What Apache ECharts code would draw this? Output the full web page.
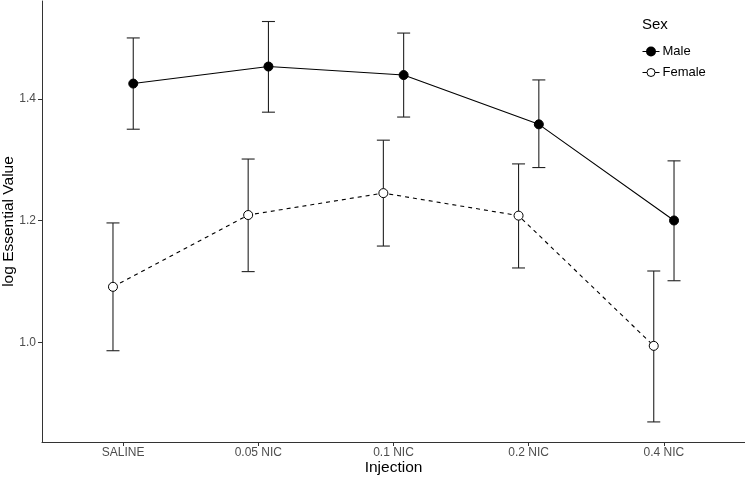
<!DOCTYPE html>
<html>
<head>
<meta charset="utf-8">
<script src="https://cdn.jsdelivr.net/npm/echarts@6/dist/echarts.min.js"></script>
<style>html,body{margin:0;padding:0;background:#fff}#c{width:745px;height:478px}</style>
</head>
<body>
<div id="c"></div>
<script>
const categories = ['SALINE', '0.05 NIC', '0.1 NIC', '0.2 NIC', '0.4 NIC'];
const maleMean = [1.425, 1.453, 1.439, 1.358, 1.200];
const maleLow = [1.350, 1.378, 1.370, 1.287, 1.101];
const maleHigh = [1.500, 1.527, 1.508, 1.431, 1.298];
const femaleMean = [1.091, 1.209, 1.245, 1.208, 0.994];
const femaleLow = [0.986, 1.116, 1.158, 1.122, 0.869];
const femaleHigh = [1.196, 1.301, 1.332, 1.293, 1.117];
const yTicks = [1.0, 1.2, 1.4];
const dodge = 0.075;

const catPos = categories.map((c, i) => i + 1);
const font = 'Liberation Sans, Arial, sans-serif';

function pts(mean, off) { return mean.map((v, i) => [catPos[i] + off, v]); }
function bars(low, high, off) { return low.map((v, i) => [catPos[i] + off, v, high[i]]); }

function errRender(params, api) {
  const x = api.value(0);
  const lo = api.coord([x, api.value(1)]);
  const hi = api.coord([x, api.value(2)]);
  const hw = 6.5;
  const st = { stroke: '#222', lineWidth: 1.1 };
  return {
    type: 'group',
    children: [
      { type: 'line', shape: { x1: lo[0], y1: lo[1], x2: hi[0], y2: hi[1] }, style: st },
      { type: 'line', shape: { x1: lo[0] - hw, y1: lo[1], x2: lo[0] + hw, y2: lo[1] }, style: st },
      { type: 'line', shape: { x1: hi[0] - hw, y1: hi[1], x2: hi[0] + hw, y2: hi[1] }, style: st }
    ]
  };
}

const chart = echarts.init(document.getElementById('c'), null, { renderer: 'canvas' });
chart.setOption({
  animation: false,
  backgroundColor: '#fff',
  textStyle: { fontFamily: font },
  grid: { left: 42, right: 0, top: 1, bottom: 36, containLabel: false, outerBoundsMode: 'none' },
  title: {
    text: 'Sex', left: 637, top: 12,
    textStyle: { fontFamily: font, fontSize: 15, fontWeight: 'normal', color: '#000' }
  },
  legend: {
    orient: 'vertical', left: 637, top: 40,
    itemWidth: 17, itemHeight: 10, itemGap: 8,
    textStyle: { fontFamily: font, fontSize: 13, color: '#000', padding: [0, 0, 0, -2] },
    data: [
      { name: 'Male', itemStyle: { color: '#000', borderColor: '#000' }, lineStyle: { color: '#000', width: 1, type: 'solid' } },
      { name: 'Female', itemStyle: { color: '#fff', borderColor: '#000', borderWidth: 1 }, lineStyle: { color: '#000', width: 1, type: 'solid' } }
    ]
  },
  xAxis: {
    type: 'value', min: 0.4, max: 5.6,
    name: 'Injection', nameLocation: 'middle', nameGap: 18, nameMoveOverlap: false,
    nameTextStyle: { fontFamily: font, fontSize: 15.5, color: '#000' },
    axisLine: { show: true, lineStyle: { color: '#333', width: 1 } },
    axisTick: { show: true, length: 4, customValues: catPos, lineStyle: { color: '#333' } },
    axisLabel: {
      customValues: catPos, margin: 5, fontFamily: font, fontSize: 12, color: '#4d4d4d',
      formatter: v => categories[Math.round(v) - 1]
    },
    splitLine: { show: false }
  },
  yAxis: {
    type: 'value', min: 0.836, max: 1.5607,
    name: 'log Essential Value', nameLocation: 'middle', nameGap: 25, nameMoveOverlap: false,
    nameTextStyle: { fontFamily: font, fontSize: 15.5, color: '#000' },
    axisLine: { show: true, lineStyle: { color: '#333', width: 1 } },
    axisTick: { show: true, length: 4, customValues: yTicks, lineStyle: { color: '#333' } },
    axisLabel: {
      customValues: yTicks, margin: 6, fontFamily: font, fontSize: 12, color: '#4d4d4d',
      formatter: v => v.toFixed(1)
    },
    splitLine: { show: false }
  },
  series: [
    { type: 'custom', name: 'maleErr', renderItem: errRender, data: bars(maleLow, maleHigh, dodge), z: 1, silent: true },
    { type: 'custom', name: 'femaleErr', renderItem: errRender, data: bars(femaleLow, femaleHigh, -dodge), z: 1, silent: true },
    {
      type: 'line', name: 'Male', data: pts(maleMean, dodge), z: 3,
      symbol: 'circle', symbolSize: 9, showSymbol: true,
      lineStyle: { color: '#000', width: 1.1, type: 'solid' },
      itemStyle: { color: '#000', borderColor: '#000', borderWidth: 1 }
    },
    {
      type: 'line', name: 'Female', data: pts(femaleMean, -dodge), z: 3,
      symbol: 'circle', symbolSize: 9, showSymbol: true,
      lineStyle: { color: '#000', width: 1.1, type: [4, 4] },
      itemStyle: { color: '#fff', borderColor: '#000', borderWidth: 1 }
    }
  ]
});
</script>
</body>
</html>
